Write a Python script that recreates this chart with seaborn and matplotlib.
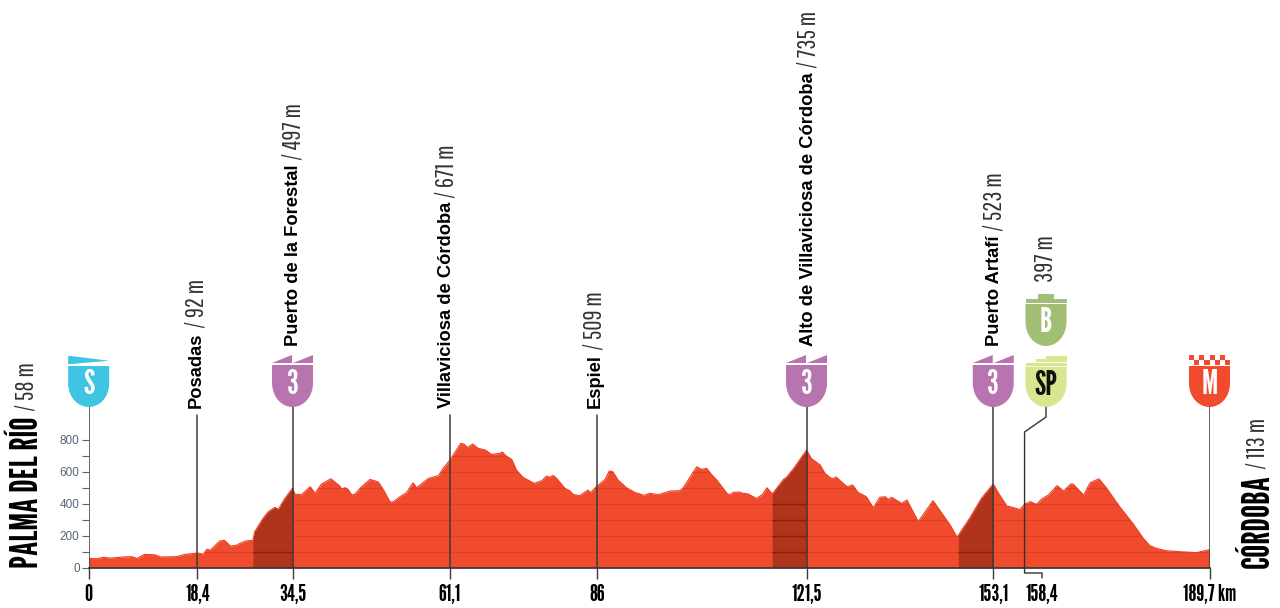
import matplotlib
matplotlib.use("Agg")
import matplotlib.pyplot as plt
import numpy as np
import seaborn as sns
from matplotlib.patches import PathPatch, Polygon, Rectangle
from matplotlib.path import Path

# perfil de la etapa: km / altitud
profile_km = [0, 1.35, 2.5, 3.6, 5.9, 7.3, 8.2, 9.4, 11.2, 12.1, 14.9, 16.3, 18.4, 19.4, 20, 20.6, 22.2, 23, 24, 25,
              25.6, 26.6, 27.8, 28.1, 29.5, 30.4, 31.5, 32.1, 33.2, 34.5, 34.9, 36, 37.5, 38.3, 39.4, 41, 42.5, 42.8,
              43.4, 43.9, 44.5, 45, 46.2, 47.6, 49, 49.9, 51, 51.6, 52.7, 53.8, 54.9, 55.5, 57.5, 59.2, 60, 61.1,
              61.7, 62.95, 63.5, 64.1, 65, 65.9, 67.1, 68.2, 69.6, 70, 70.6, 71.6, 72.4, 73.5, 75.4, 76.7, 77.5, 78,
              78.6, 79.2, 80.6, 81.4, 82, 83.1, 84.5, 84.9, 86, 87.4, 88.1, 88.7, 89.6, 91, 92.4, 93.3, 93.9, 95,
              96.4, 98.4, 100, 100.6, 102.9, 103.7, 104.6, 105.4, 106.3, 108.1, 108.5, 109.1, 110.1, 110.8, 111.6,
              113, 114, 114.8, 115.7, 117.6, 118.1, 119.2, 121.5, 122.3, 123.8, 124.6, 125.5, 125.9, 126.5, 127.7,
              128.4, 129.3, 130.2, 131.6, 132.8, 133.9, 134.8, 135.3, 135.9, 137.6, 138.5, 140.4, 142.9, 145.8, 147,
              147.2, 149.1, 151.1, 153.1, 154, 155.4, 156.6, 157.6, 158.4, 159.4, 160.4, 161.3, 162.4, 163.9, 165,
              166.2, 166.6, 168.4, 169.5, 171, 172.3, 174.5, 176.8, 178.5, 179.6, 180.7, 182.4, 184.7, 187.5, 189.7]
profile_m = [58, 56, 65, 60, 67, 69, 58, 83, 81, 67, 69, 83, 92, 85, 115, 110, 167, 171, 135, 140,
             152, 167, 172, 225, 308, 350, 377, 365, 433, 497, 460, 456, 506, 465, 523, 556, 510, 492,
             500, 490, 456, 458, 506, 552, 536, 486, 410, 413, 444, 469, 531, 500, 558, 575, 621, 671,
             704, 777, 773, 752, 773, 746, 736, 708, 715, 723, 700, 677, 610, 565, 527, 544, 573, 565,
             577, 558, 496, 481, 458, 450, 485, 469, 509, 552, 604, 600, 548, 500, 471, 461, 452, 465,
             456, 479, 481, 498, 631, 615, 621, 583, 548, 461, 456, 471, 473, 465, 461,
             433, 456, 500, 461, 552, 565, 615, 735, 683, 642, 590, 563, 556, 567, 527,
             506, 517, 471, 444, 375, 440, 444, 427, 440, 402, 423, 288, 419, 267, 190,
             204, 309, 434, 523, 465, 386, 375, 363, 397, 413, 396, 429, 454, 513, 479,
             523, 523, 454, 531, 556, 496, 381, 273, 183, 138, 121, 106, 100, 94, 113]

km_ticks = [0, 18.4, 34.5, 61.1, 86, 121.5, 153.1, 189.7]
km_labels = ["0", "18,4", "34,5", "61,1", "86", "121,5", "153,1", "189,7 km"]
sprint_km = 158.4
sprint_label = "158,4"

pass_names = ["Posadas", "Puerto de la Forestal", "Villaviciosa de Córdoba", "Espiel",
              "Alto de Villaviciosa de Córdoba", "Puerto Artafí"]
pass_km = [18.4, 34.5, 61.1, 86, 121.5, 153.1]
pass_alt = [92, 497, 671, 509, 735, 523]
sprint_alt = 397
start_name, start_alt = "PALMA DEL RÍO", 58
end_name, end_alt = "CÓRDOBA", 113

climb_start = [27.8, 115.7, 147.2]
climb_end = [34.5, 121.5, 153.1]

RED = "#f04b2d"
DARK = "#b0341c"
PURPLE = "#b874ae"
BLUE = "#3fc4e4"
GREEN = "#a1bf74"
LIME = "#d9e58f"
GOTHIC = ["League Gothic", "DejaVu Sans"]
THIN = ["Pathway Gothic One", "DejaVu Sans"]
W, H = 1280, 608
X0, X1, Y0 = 88.7, 1209.5, 567.7
PX_PER_M = 0.16


def shield(dx, cx, top, bottom, color):
    # escudo: lados rectos y base redondeada
    hw = 20.5
    h = bottom - top
    verts = [(cx - hw, top), (cx + hw, top), (cx + hw, top + h * 0.42),
             (cx + hw, top + h * 0.78), (cx + hw * 0.5, bottom), (cx, bottom),
             (cx - hw * 0.5, bottom), (cx - hw, top + h * 0.78), (cx - hw, top + h * 0.42), (cx - hw, top)]
    codes = [Path.MOVETO, Path.LINETO, Path.LINETO, Path.CURVE4, Path.CURVE4, Path.CURVE4,
             Path.CURVE4, Path.CURVE4, Path.CURVE4, Path.CLOSEPOLY]
    dx.add_patch(PathPatch(Path(verts, codes), facecolor=color, edgecolor="none"))


def shield_letter(dx, cx, top, text, color="white"):
    dx.text(cx, top + 17, text, color=color, fontsize=24, family=GOTHIC, ha="center", va="center")


def two_wedges(dx, cx):
    for off in (-20.5, 0.5):
        dx.add_patch(Polygon([(cx + off, 363), (cx + off + 20, 355), (cx + off + 20, 363)],
                             facecolor=PURPLE, edgecolor="none"))


def pass_label(ax, x_px, bottom_px, name, tail):
    t = ax.text(x_px, bottom_px, name, rotation=90, ha="center", va="bottom", fontsize=13.2,
                fontweight="bold", color="black", family=["Liberation Sans"])
    ax.annotate(tail, xy=(0.5, 1), xycoords=t, xytext=(0, 3), textcoords="offset points", rotation=90,
                ha="center", va="bottom", fontsize=18, color="#333333", family=THIN)


def town_label(ax, x_px, name, tail):
    t = ax.text(x_px, 568, name, rotation=90, ha="center", va="bottom", fontsize=26.5, color="black", family=GOTHIC)
    ax.annotate(tail, xy=(0.5, 1), xycoords=t, xytext=(0, 4), textcoords="offset points", rotation=90,
                ha="center", va="bottom", fontsize=18, color="#333333", family=THIN)


sns.set_theme(style="white")
plt.rcParams["font.family"] = ["Liberation Sans", "DejaVu Sans"]
km = np.array(profile_km)
alt = np.array(profile_m)

fig = plt.figure(figsize=(W / 100, H / 100), dpi=100)
ax = fig.add_axes([X0 / W, (H - Y0) / H, (X1 - X0) / W, Y0 / H])
ax.set_xlim(0, 189.7)
ax.set_ylim(0, Y0 / PX_PER_M)
ax.patch.set_alpha(0)

fill = ax.fill_between(km, alt, 0, color=RED, linewidth=0, zorder=1)
sns.lineplot(x=km, y=alt, ax=ax, color="#ee4026", linewidth=0.8, zorder=2, estimator=None, sort=False)

# lineas de nivel dentro del perfil
for level in range(100, 800, 100):
    ln = ax.axhline(level, color="#e03d27", linewidth=0.9, zorder=2)
    ln.set_clip_path(fill.get_paths()[0], fill.get_transform())

for i, (a, b) in enumerate(zip(climb_start, climb_end)):
    mask = (km >= a) & (km <= b)
    dark = ax.fill_between(km[mask], alt[mask], 0, color=DARK, linewidth=0, zorder=3)
    levels = [100, 200, 300, 400] if i == 1 else [100]
    for level in levels:
        ln, = ax.plot([a, b], [level, level], color="#8e1a12", linewidth=1, zorder=3)
        ln.set_clip_path(dark.get_paths()[0], dark.get_transform())

top_short = (Y0 - 415) / PX_PER_M
top_long = (Y0 - 407) / PX_PER_M
for k in km_ticks:
    ax.plot([k, k], [0, top_short if k in (18.4, 61.1, 86) else top_long], color="#3a3a3a", linewidth=1.1, zorder=4)

for side in ("left", "top", "right"):
    ax.spines[side].set_visible(False)
ax.spines["bottom"].set_color("#333333")
ax.spines["bottom"].set_linewidth(1.2)
ax.spines["bottom"].set_zorder(5)

ax.set_xticks(km_ticks, km_labels, family=GOTHIC, fontsize=16.5, color="black")
ax.tick_params(axis="x", length=8, width=1, color="#3a3a3a", pad=4, bottom=True)
ax.set_yticks([0, 200, 400, 600, 800], ["0", "200", "400", "600", "800"], fontsize=8.5, color="#5a6478")
ax.set_yticks([100, 300, 500, 700], minor=True)
ax.tick_params(axis="y", which="both", length=5, width=0.8, color="#5a6478", pad=1.5, left=True)

# capa en pixeles para escudos y rotulos
dx = fig.add_axes([0, 0, 1, 1], zorder=6)
dx.set_xlim(0, W)
dx.set_ylim(H, 0)
dx.axis("off")


def km_px(k):
    return ax.transData.transform((k, 0))[0]


sx = km_px(sprint_km)
sp_x = 1046
dx.plot([sp_x, sp_x, sx, sx, sp_x - 4, sp_x - 4], [407, 417, 432, 573, 573, 578], color="#333333", linewidth=1, zorder=1)
tick_y = ax.get_xticklabels()[1].get_window_extent(fig.canvas.get_renderer())
dx.text(sp_x - 4, H - (tick_y.y0 + tick_y.y1) / 2, sprint_label, ha="center", va="center", fontsize=16.5,
        family=GOTHIC, color="black")

# salida
cx = km_px(0)
dx.add_patch(Polygon([(cx - 20.5, 355.7), (cx + 20.5, 360.7), (cx - 20.5, 364.3)], facecolor=BLUE, edgecolor="none"))
shield(dx, cx, 366, 407, BLUE)
shield_letter(dx, cx, 368, "S")

# puertos de 3a
for k in (34.5, 121.5, 153.1):
    cx = km_px(k)
    two_wedges(dx, cx)
    shield(dx, cx, 365, 407, PURPLE)
    shield_letter(dx, cx, 368, "3")

# sprint y bonificacion
dx.add_patch(Polygon([(sp_x - 10, 361.5), (sp_x - 10, 359), (sp_x, 359), (sp_x, 356), (sp_x + 20.5, 356), (sp_x + 20.5, 361.5)],
                     facecolor=LIME, edgecolor="none"))
dx.add_patch(Rectangle((sp_x - 20.5, 363), 41, 2.7, facecolor=LIME, edgecolor="none"))
shield(dx, sp_x, 366.7, 407, LIME)
shield_letter(dx, sp_x, 368.5, "SP", color="#111111")

dx.add_patch(Rectangle((sp_x - 8, 294), 16, 5.5, facecolor=GREEN, edgecolor="none"))
dx.add_patch(Rectangle((sp_x - 20.5, 299), 41, 3.7, facecolor=GREEN, edgecolor="none"))
shield(dx, sp_x, 304, 346, GREEN)
shield_letter(dx, sp_x, 306, "B")

# meta
cx = km_px(189.7)
for col in range(8):
    row = col % 2
    dx.add_patch(Rectangle((cx - 20.5 + col * 5.125, 355 + row * 5), 5.125, 5, facecolor=RED, edgecolor="none"))
shield(dx, cx, 366, 407, RED)
shield_letter(dx, cx, 368, "M")

# rotulos
label_off = [-1, 1, -3, -2, 2, 1]
label_base = [408, 346, 408, 408, 346, 346]
for name, k, a, off, base in zip(pass_names, pass_km, pass_alt, label_off, label_base):
    pass_label(dx, km_px(k) + off, base, name, f"/ {a} m")
dx.text(sp_x, 282, f"{sprint_alt} m", rotation=90, ha="center", va="bottom", fontsize=18, color="#333333", family=THIN)

town_label(dx, 27, start_name, f"/ {start_alt} m")
town_label(dx, 1258, end_name, f"/ {end_alt} m")

fig.savefig("out.png", dpi=100)
